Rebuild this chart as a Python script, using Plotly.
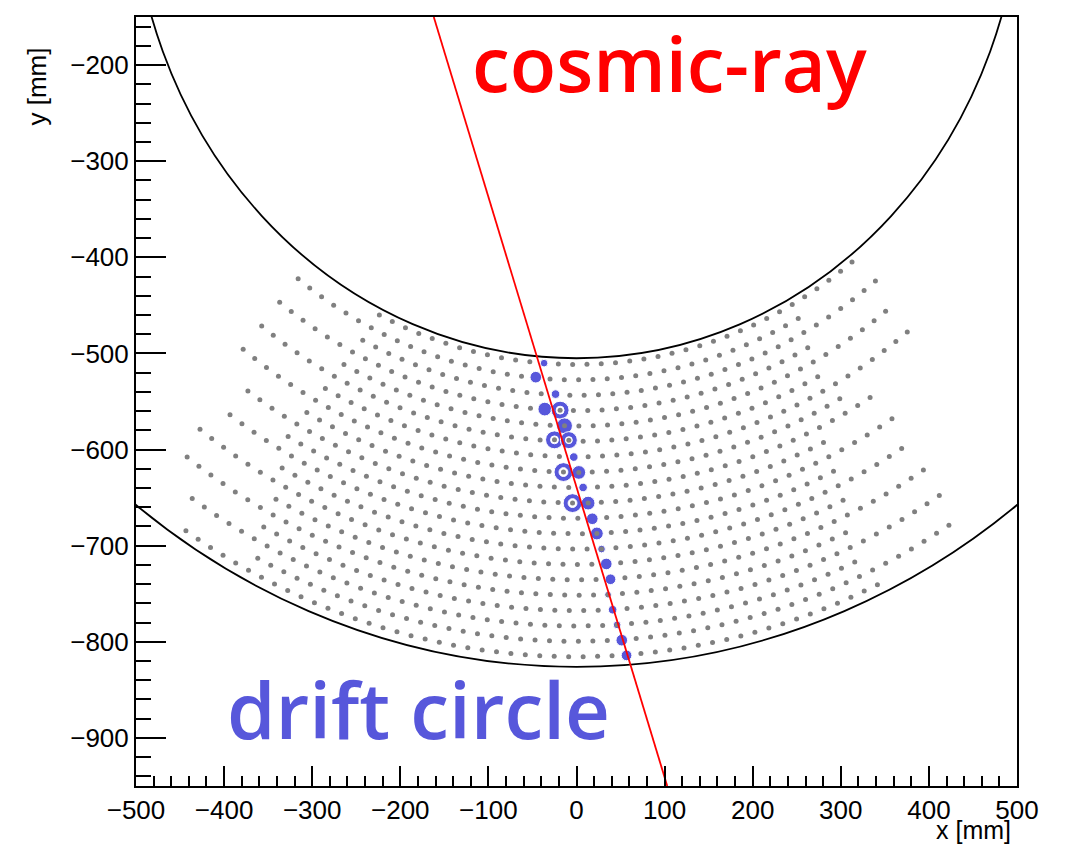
import numpy as np
import plotly.graph_objects as go

# ---------------- data ----------------
# drift-chamber sense-wire layers
layer_radius = [511.5, 527.5, 543.5, 559.5, 575.5, 591.5, 607.5, 623.5, 639.5, 655.5,
                671.5, 687.5, 703.5, 719.5, 735.5, 751.5, 767.5, 783.5, 799.5, 815.5]
layer_cells = [198, 204, 210, 216, 222, 228, 234, 240, 246, 252,
               258, 264, 270, 276, 282, 288, 294, 300, 306, 312]
# angular extent of the displayed wires (deg, measured from the -y axis)
layer_left_deg = [25.7, 37.5, 27.0, 37.7, 27.8, 37.9, 28.5, 38.0, 29.0, 35.3,
                  28.5, 35.5, 28.0, 35.8, 27.5, 35.4, 27.5, 34.4, 27.0, 33.5]
layer_right_deg = [37.9, 28.0, 38.2, 28.0, 37.1, 28.0, 37.7, 28.0, 30.8, 25.5,
                   31.6, 25.0, 31.0, 25.0, 31.8, 24.5, 31.9, 24.3, 32.5, 24.2]

# hits (drift circles)
hit_x = [-36.8, -46.2, -23.8, -36.0, -18.6, -13.6, -25.0, -8.7, -3.1, -14.8, 2.6, 7.5,
         -4.5, 13.2, 17.9, 23.1, 28.4, 33.8, 38.6, 35.8, 41.0, 46.1, 51.4, 56.8]
hit_y = [-510.1, -524.7, -542.3, -557.9, -559.0, -575.3, -589.9, -590.2, -607.8, -623.4,
         -623.8, -639.4, -655.7, -655.7, -672.0, -687.3, -703.5, -719.0, -734.9, -751.0,
         -766.6, -782.4, -798.3, -814.1]
hit_layer = [0, 1, 2, 3, 3, 4, 5, 5, 6, 7, 7, 8, 9, 9, 10, 11, 12, 13, 14, 15, 16, 17, 18, 19]
hit_drift = [1.4, 3.5, 1.9, 4.6, 6.8, 5.7, 6.8, 6.3, 1.9, 7.3, 4.6, 1.9,
             7.3, 4.6, 3.5, 4.1, 1.4, 3.5, 3.0, 0.8, 1.9, 1.4, 3.5, 3.0]
hit_wire_visible = [0, 0, 0, 0, 1, 1, 1, 1, 0, 1, 1, 0, 1, 1, 0, 1, 1, 0, 0, 1, 0, 1, 0, 0]

# cosmic-ray track
track_x = [-162, 103]
track_y = [-150, -950]

# chamber walls
inner_wall_r = 505
outer_wall_r = 826

x_ticks = list(range(-500, 501, 100))
y_ticks = list(range(-900, -199, 100))

# ---------------- styles ----------------
WIRE_GRAY = "#808080"
HIT_BLUE = "#5757DB"
PX_PER_MM = 0.95
RING_W = 5.0

# ---------------- wires ----------------
wx, wy = [], []
for i, r in enumerate(layer_radius):
    d = 360.0 / layer_cells[i]
    idx = [k for k, L in enumerate(hit_layer) if L == i]
    a0 = np.degrees(np.arctan2(hit_x[idx[0]], -hit_y[idx[0]]))
    kmin = int(np.ceil((-layer_left_deg[i] - d / 2 - a0) / d))
    kmax = int(np.floor((layer_right_deg[i] + d / 2 - a0) / d))
    phi = np.radians(a0 + d * np.arange(kmin, kmax + 1))
    wx += list(r * np.sin(phi))
    wy += list(-r * np.cos(phi))

fig = go.Figure()

fig.add_trace(go.Scatter(x=wx, y=wy, mode="markers",
                         marker=dict(size=5, color=WIRE_GRAY, opacity=1),
                         hoverinfo="skip", showlegend=False))

outer_d = [2 * d * PX_PER_MM + RING_W for d in hit_drift]
hole_d = [2 * d * PX_PER_MM - RING_W for d in hit_drift]

fig.add_trace(go.Scatter(x=hit_x, y=hit_y, mode="markers",
                         marker=dict(size=outer_d, color=HIT_BLUE, opacity=1),
                         showlegend=False))
ring_idx = [k for k in range(len(hit_x)) if hole_d[k] >= 6]
fig.add_trace(go.Scatter(x=[hit_x[k] for k in ring_idx], y=[hit_y[k] for k in ring_idx],
                         mode="markers",
                         marker=dict(size=[hole_d[k] for k in ring_idx], color="white",
                                     opacity=1),
                         showlegend=False))
vis_idx = [k for k in range(len(hit_x)) if hit_wire_visible[k]]
fig.add_trace(go.Scatter(x=[hit_x[k] for k in vis_idx], y=[hit_y[k] for k in vis_idx],
                         mode="markers", marker=dict(size=5, color=WIRE_GRAY, opacity=1),
                         showlegend=False))

fig.add_trace(go.Scatter(x=track_x, y=track_y, mode="lines",
                         line=dict(color="#FF0000", width=1.8), showlegend=False))

for R in (inner_wall_r, outer_wall_r):
    fig.add_shape(type="circle", xref="x", yref="y", x0=-R, y0=-R, x1=R, y1=R,
                  line=dict(color="black", width=1.8), layer="below")

fig.add_annotation(x=-121, y=-197, xref="x", yref="y", text="cosmic-ray",
                   showarrow=False, xanchor="left", yanchor="middle",
                   font=dict(family="Open Sans", size=76, color="#FF0000", weight=600))
fig.add_annotation(x=-399, y=-869.5, xref="x", yref="y", text="drift circle",
                   showarrow=False, xanchor="left", yanchor="middle",
                   font=dict(family="Open Sans", size=78, color=HIT_BLUE, weight=600))

fig.add_annotation(x=-0.112, y=0.91, xref="paper", yref="paper", text="y [mm]",
                   textangle=-90, showarrow=False, xanchor="center", yanchor="middle",
                   font=dict(family="Liberation Sans", size=26, color="black"))
fig.add_annotation(x=0.9955, y=-0.057, xref="paper", yref="paper", text="x [mm]",
                   showarrow=False, xanchor="right", yanchor="middle",
                   font=dict(family="Liberation Sans", size=25, color="black"))

axis_common = dict(showgrid=False, zeroline=False, showline=True, linecolor="black",
                   linewidth=2, mirror=True, ticks="inside", tickcolor="black",
                   tickwidth=1.5, tickfont=dict(family="Liberation Sans", size=26,
                                                color="black"))
fig.update_xaxes(range=[-500, 500], tickvals=x_ticks, ticklen=20,
                 minor=dict(ticks="inside", dtick=20, ticklen=10, tickwidth=1.5,
                            tickcolor="black", showgrid=False),
                 **axis_common)
fig.update_yaxes(range=[-950, -150], tickvals=y_ticks, ticklen=30,
                 minor=dict(ticks="inside", dtick=20, ticklen=15, tickwidth=1.5,
                            tickcolor="black", showgrid=False),
                 **axis_common)

fig.update_layout(width=1066, height=845, margin=dict(l=136, r=49, t=17, b=59),
                  paper_bgcolor="white", plot_bgcolor="white")

fig.write_html("out.html")
